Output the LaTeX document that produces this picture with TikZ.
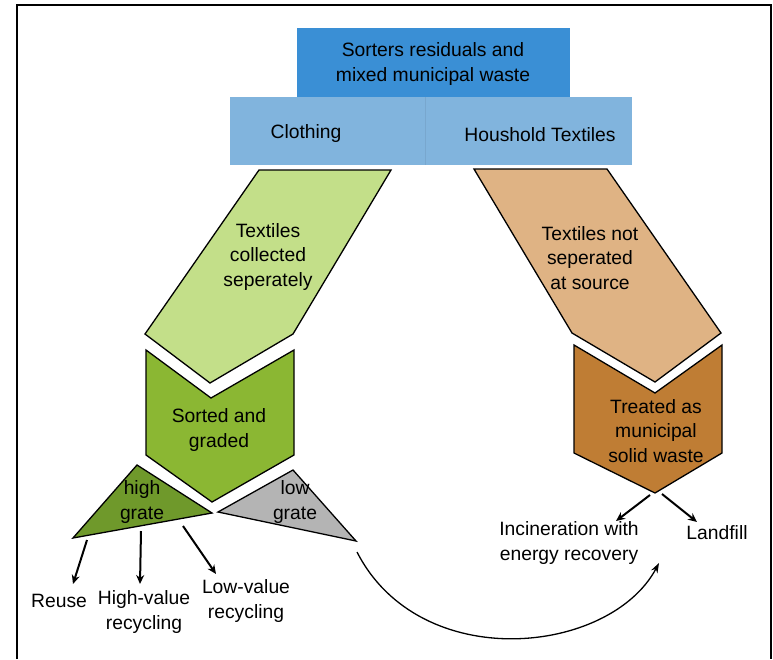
\documentclass[tikz,border=0pt]{standalone}
\usepackage{fontspec}
\setmainfont{Liberation Sans}
\usetikzlibrary{arrows.meta}
\definecolor{wasteBlue}{HTML}{3A8FD5}
\definecolor{wasteSky}{HTML}{81B4DD}
\definecolor{wasteLeaf}{HTML}{C3DF89}
\definecolor{wasteGrass}{HTML}{8BB733}
\definecolor{wasteOlive}{HTML}{6F992B}
\definecolor{wasteGrey}{HTML}{B4B4B4}
\definecolor{wasteSand}{HTML}{DFB384}
\definecolor{wasteRust}{HTML}{BF7D34}
\tikzset{
    lbl/.style={align=center, font=\fontsize{19.3}{24.5}\selectfont, text=black, inner sep=0pt},
    shapeline/.style={draw=black, line width=1.3pt, line join=miter},
    outarrow/.style={-{Stealth[length=9pt,width=8pt]}, line width=2pt},
    looparrow/.style={-{Stealth[length=10pt,width=7pt]}, line width=1.3pt},
    frameline/.style={line width=2.5pt}
}

\begin{document}
\begin{tikzpicture}[x=1pt,y=-1pt]
\useasboundingbox (0,0) rectangle (773,659);
\draw[frameline] (17,659) -- (17,5) -- (771,5) -- (771,659);

% source boxes
\fill[wasteBlue] (297,28) rectangle (570,98);
\fill[wasteSky] (230,97) rectangle (425,165);
\fill[wasteSky] (425,97) rectangle (632,165);
\draw[wasteSky!93!black, line width=0.6pt] (425,97) -- (425,165);
\node[lbl] (source) at (433,64) {Sorters residuals and\\mixed municipal waste};
\node[lbl] (clothing) at (306,134) {Clothing};
\node[lbl] (household) at (540,135) {Houshold Textiles};

% separately collected branch
\draw[shapeline, fill=wasteLeaf] (259,170) -- (391,170) -- (293,334) -- (210,383) -- (145,334) -- cycle;
\draw[shapeline, fill=wasteGrass] (146,350) -- (211,398) -- (294,350) -- (294,455) -- (212,502) -- (146,455) -- cycle;
\draw[shapeline, fill=wasteOlive] (137,465) -- (212,513) -- (73,538) -- cycle;
\draw[shapeline, fill=wasteGrey] (293,470) -- (356,541) -- (218,512) -- cycle;
\node[lbl] (collected) at (268,257) {Textiles\\collected\\seperately};
\node[lbl] (sorted) at (219,430) {Sorted and\\graded};
\node[lbl] (high) at (142,502) {high\\grate};
\node[lbl] (low) at (295,502) {low\\grate};

% not separated branch
\draw[shapeline, fill=wasteSand] (474,169) -- (607,169) -- (721,333) -- (655,382) -- (572,333) -- cycle;
\draw[shapeline, fill=wasteRust] (574,345) -- (655,393) -- (722,345) -- (722,453) -- (655,493) -- (574,453) -- cycle;
\node[lbl] (notsep) at (590,258) {Textiles not\\seperated\\at source};
\node[lbl] (treated) at (656,431) {Treated as\\municipal\\solid waste};

% outcomes
\node[lbl] (reuse) at (59,601) {Reuse};
\node[lbl] (hivalue) at (144,612) {High-value\\recycling};
\node[lbl] (lovalue) at (246,601) {Low-value\\recycling};
\node[lbl] (incin) at (569,543) {Incineration with\\energy recovery};
\node[lbl] (landfill) at (717,533) {Landfill};

\coordinate (reuseFrom) at (87,540);
\coordinate (reuseTo) at (73,584);
\coordinate (hiFrom) at (141,531);
\coordinate (hiTo) at (140,584);
\coordinate (loFrom) at (183,526);
\coordinate (loTo) at (216,574);
\coordinate (incinFrom) at (650,495);
\coordinate (incinTo) at (616,521);
\coordinate (fillFrom) at (662,494);
\coordinate (fillTo) at (697,522);
\coordinate (lowFrom) at (357,552);
\coordinate (lowTo) at (659,563);

\draw[outarrow] (reuseFrom) -- (reuseTo);
\draw[outarrow] (hiFrom) -- (hiTo);
\draw[outarrow] (loFrom) -- (loTo);
\draw[outarrow] (incinFrom) -- (incinTo);
\draw[outarrow] (fillFrom) -- (fillTo);
\draw[looparrow] (lowFrom) .. controls (420,675) and (610,655) .. (lowTo);
\end{tikzpicture}
\end{document}
